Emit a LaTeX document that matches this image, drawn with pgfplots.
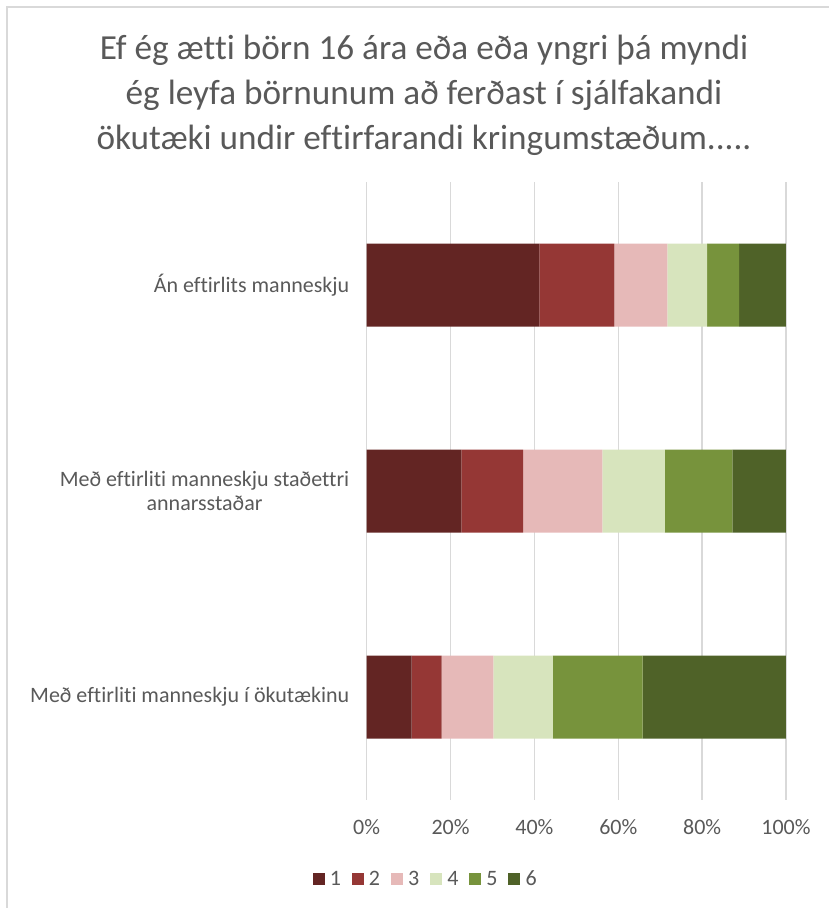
\documentclass[border=0pt]{standalone}
\usepackage{fontspec}
\setmainfont{Carlito}[Ligatures=CommonOff]
\usepackage{pgfplots}
\pgfplotsset{compat=1.18}
\definecolor{c1}{HTML}{632523}
\definecolor{c2}{HTML}{953735}
\definecolor{c3}{HTML}{E6B9B8}
\definecolor{c4}{HTML}{D7E4BD}
\definecolor{c5}{HTML}{77933C}
\definecolor{c6}{HTML}{4F6228}
\definecolor{txt}{HTML}{595959}
\definecolor{gridc}{HTML}{D9D9D9}
\newcommand\lf{\fontsize{16.5}{18}\selectfont}
\begin{document}
\begin{tikzpicture}
\useasboundingbox (0,0) rectangle (621.75pt,681pt);
\draw[gridc, line width=1.5pt] (5.25pt,0) -- (5.25pt,675.75pt) -- (621.75pt,675.75pt);
\node[anchor=base, txt, font=\fontsize{26.4}{30}\selectfont] at (318pt,636pt) {Ef ég ætti börn 16 ára eða eða yngri þá myndi};
\node[anchor=base, txt, font=\fontsize{26.4}{30}\selectfont] at (318pt,602.25pt) {ég leyfa börnunum að ferðast í sjálfakandi};
\node[anchor=base, txt, font=\fontsize{26.4}{30}\selectfont] at (318pt,568.5pt) {ökutæki undir eftirfarandi kringumstæðum.....};
\begin{axis}[
  at={(275pt,81pt)}, anchor=south west,
  width=314.5pt, height=463.5pt, scale only axis,
  xbar stacked, bar width=62.25pt,
  xmin=0, xmax=100, ymin=-0.5, ymax=2.5, y dir=reverse,
  ytick={0,1,2},
  yticklabels={Án eftirlits manneskju, {Með eftirliti manneskju staðettri\\annarsstaðar}, Með eftirliti manneskju í ökutækinu},
  xtick={0,20,40,60,80,100},
  xticklabel={\pgfmathprintnumber{\tick}\%},
  /pgf/number format/assume math mode=true,
  xmajorgrids, grid style={gridc, line width=1pt},
  axis line style={draw=none},
  major tick length=0pt,
  tick label style={txt, font=\lf},
  yticklabel style={align=center, xshift=-9.5pt},
  xticklabel style={yshift=-11pt},
  legend columns=6,
  legend style={draw=none, at={(0.1414,-0.128)}, anchor=center,
    font=\lf, text=txt,
    /tikz/every odd column/.append style={column sep=2pt},
    /tikz/every even column/.append style={column sep=6pt}},
  legend image code/.code={\fill[#1] (0pt,-4.5pt) rectangle (9pt,4.5pt);},
]
\addplot[fill=c1, draw=none] coordinates {(41.2,0) (22.6,1) (10.7,2)};
\addplot[fill=c2, draw=none] coordinates {(17.9,0) (14.7,1) (7.2,2)};
\addplot[fill=c3, draw=none] coordinates {(12.6,0) (18.9,1) (12.3,2)};
\addplot[fill=c4, draw=none] coordinates {(9.5,0) (14.9,1) (14.2,2)};
\addplot[fill=c5, draw=none] coordinates {(7.6,0) (16.1,1) (21.4,2)};
\addplot[fill=c6, draw=none] coordinates {(11.2,0) (12.8,1) (34.2,2)};
\legend{{\lf 1},{\lf 2},{\lf 3},{\lf 4},{\lf 5},{\lf 6}}
\end{axis}
\end{tikzpicture}
\end{document}
